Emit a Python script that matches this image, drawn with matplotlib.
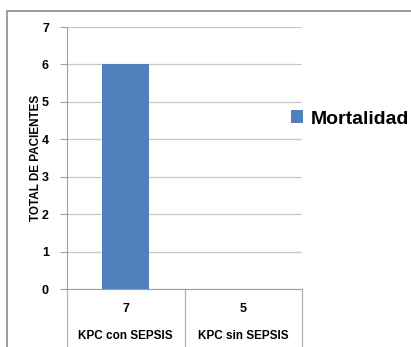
import matplotlib.pyplot as plt
from matplotlib.lines import Line2D
from matplotlib.patches import Rectangle

categories = ["KPC con SEPSIS", "KPC sin SEPSIS"]
totals = ["7", "5"]
mortalidad = [6, 0]
yticks = [0, 1, 2, 3, 4, 5, 6, 7]

plt.rcParams['font.family'] = ['Liberation Sans', 'DejaVu Sans']
plt.rcParams['font.weight'] = 'bold'

fig = plt.figure(figsize=(4.11, 3.47), dpi=100)
ax = fig.add_axes([67 / 411, 1 - 289 / 347, 235 / 411, 262 / 347])

x = list(range(len(categories)))
bars = ax.bar(x, mortalidad, width=0.4, color="#4f81bd", label="Mortalidad", zorder=3)

ax.set_xlim(-0.5, len(categories) - 0.5)
ax.set_ylim(0, 7)
ax.set_yticks(yticks)
ax.set_yticklabels([str(v) for v in yticks], fontsize=9, fontweight='bold')
ax.tick_params(axis='y', length=5, color='#a0a0a0', pad=8)
ax.tick_params(axis='x', length=0, labelbottom=False)
ax.grid(axis='y', color='#c8c8c8', linewidth=0.9, zorder=0)

for s in ['top', 'right']:
    ax.spines[s].set_visible(False)
ax.spines['left'].set_color('#a0a0a0')
ax.spines['bottom'].set_color('#a0a0a0')

ax.set_ylabel("TOTAL DE PACIENTES", fontsize=8.5, fontweight='bold', labelpad=0)

# category table under the axis
trans = ax.get_xaxis_transform()
for xi in [-0.5, 0.5, 1.5]:
    ax.add_line(Line2D([xi, xi], [0, -0.25], transform=trans, color='#b0b0b0',
                       linewidth=0.9, clip_on=False))
for xi, t, c in zip(x, totals, categories):
    ax.text(xi, -0.075, t, transform=trans, ha='center', va='center',
            fontsize=9, fontweight='bold')
    ax.text(xi, -0.18, c, transform=trans, ha='center', va='center',
            fontsize=8.5, fontweight='bold')

# legend
fig.legend(handles=[bars], labels=["Mortalidad"], loc='center left',
           bbox_to_anchor=(291 / 411, 1 - 119 / 347), frameon=False,
           borderaxespad=0, borderpad=0,
           handlelength=0.6, handleheight=0.6, handletextpad=0.4,
           prop={'size': 14, 'weight': 'bold'})

# outer chart border
fig.patches.append(Rectangle((7 / 411, -0.1), 1.2, 1 - 11 / 347 + 0.1,
                             transform=fig.transFigure, fill=False,
                             edgecolor='#8c8c8c', linewidth=1.2))

fig.savefig("out.png", dpi=100)
